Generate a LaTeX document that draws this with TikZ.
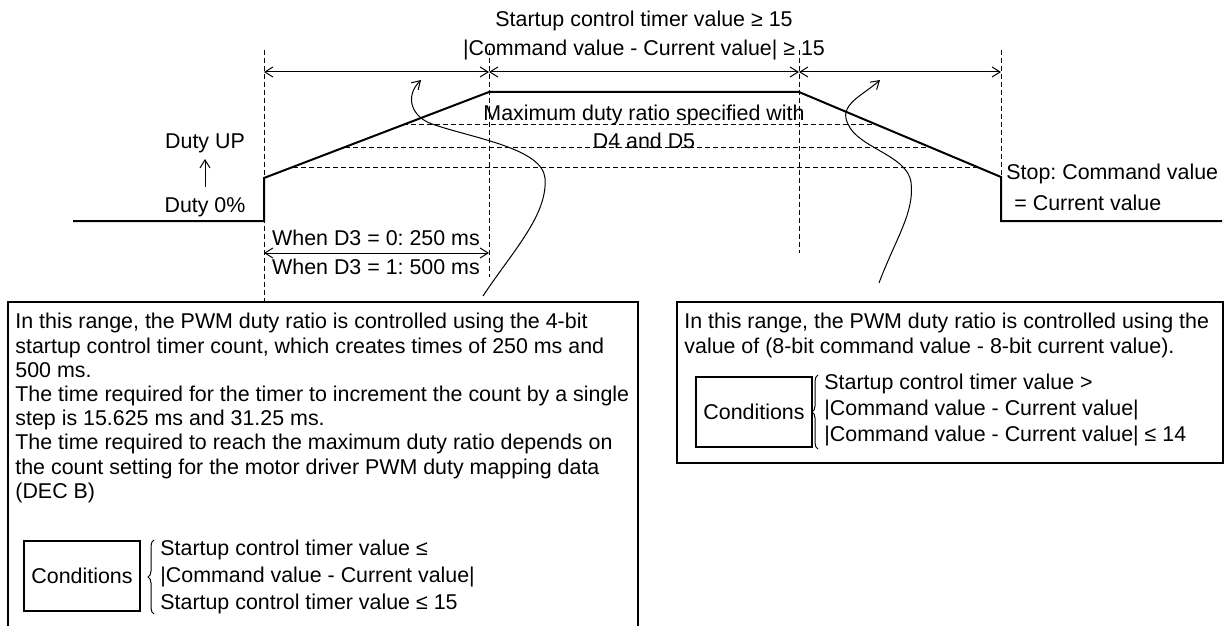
\documentclass[tikz,border=0pt]{standalone}
\usepackage{fontspec}
\setmainfont{Liberation Sans}
\usetikzlibrary{arrows.meta,positioning,decorations.pathreplacing}
\frenchspacing

\begin{document}
\begin{tikzpicture}[x=0.5pt,y=-0.5pt,
    >={Straight Barb[length=4pt,width=5pt]},
    txt/.style={inner sep=0pt,font=\fontsize{10.7}{12.1}\selectfont},
    wave/.style={line width=1pt},
    guide/.style={line width=0.5pt,dash pattern=on 2.5pt off 1.5pt},
    callout/.style={line width=0.5pt},
    frame/.style={line width=0.6pt},
    condbox/.style={draw,line width=0.6pt,minimum width=58pt,minimum height=35pt,inner sep=0pt,font=\fontsize{10.7}{12.1}\selectfont},
    condbrace/.style={line width=0.5pt,decorate,decoration={brace,amplitude=3pt,aspect=0.5}}]
  \useasboundingbox (0,0) rectangle (1225,626);

  \coordinate (w0) at (73,221);
  \coordinate (w1) at (264,221);
  \coordinate (w2) at (264,178);
  \coordinate (w3) at (489,92);
  \coordinate (w4) at (799,92);
  \coordinate (w5) at (1001,177);
  \coordinate (w6) at (1001,221);
  \coordinate (w7) at (1222,221);
  \coordinate (a0) at (264,72);
  \coordinate (a1) at (489,72);
  \coordinate (a2) at (799,72);
  \coordinate (a3) at (1001,72);

  \draw[guide] (264,50) -- (264,302);
  \draw[guide] (489,50) -- (489,277);
  \draw[guide] (799,50) -- (799,253);
  \draw[guide] (1001,50) -- (w5);
  \draw[guide] (403,125) -- (877,125);
  \draw[guide] (345,147) -- (930,147);
  \draw[guide] (293,167) -- (977,167);

  \draw[wave] (w0) -- (w1) -- (w2) -- (w3) -- (w4) -- (w5) -- (w6) -- (w7);

  \draw[callout,<->] (a0) -- (a1);
  \draw[callout,<->] (a1) -- (a2);
  \draw[callout,<->] (a2) -- (a3);

  \node[txt] (limit1) at (644,21) {Startup control timer value ≥ 15};
  \node[txt] (limit2) at (644,50) {|Command value - Current value| ≥ 15};
  \node[txt,align=center,font=\fontsize{10.7}{14}\selectfont] (maxduty) at (644,127) {Maximum duty ratio specified with\\D4 and D5};

  \node[txt] (dutyup) at (205,143) {Duty UP};
  \node[txt] (dutyzero) at (205,207) {Duty 0\%};
  \draw[callout,->,shorten <=5pt,shorten >=3pt] (dutyzero) -- (dutyup);

  \node[txt] (d3zero) at (376,238) {When D3 = 0: 250 ms};
  \node[txt] (d3one) at (376,267) {When D3 = 1: 500 ms};
  \coordinate (t0) at (264,253);
  \coordinate (t1) at (489,253);
  \draw[callout,<->] (t0) -- (t1);

  \node[txt,anchor=west] (stop) at (1006,174) {Stop: Command value};
  \node[txt,anchor=west] (stopeq) at (1014,203) {= Current value};

  \coordinate (lc0) at (483,296);
  \coordinate (lc1) at (421,80);
  \draw[callout,->] (lc0) .. controls (512,252) and (548,215) .. (545,178)
    .. controls (542,148) and (472,138) .. (432,124)
    .. controls (412,117) and (404,97) .. (lc1);
  \coordinate (rc0) at (879,283);
  \coordinate (rc1) at (880,80);
  \draw[callout,->] (rc0) .. controls (895,240) and (915,212) .. (911,182)
    .. controls (907,155) and (858,148) .. (848,124)
    .. controls (838,105) and (862,96) .. (rc1);

  \draw[frame] (8,626) |- (638,302) -- (638,626);
  \node[txt,align=left,anchor=north west] (lefttext) at (15,313) {In this range, the PWM duty ratio is controlled using the 4-bit\\startup control timer count, which creates times of 250 ms and\\500 ms.\\The time required for the timer to increment the count by a single\\step is 15.625 ms and 31.25 ms.\\The time required to reach the maximum duty ratio depends on\\the count setting for the motor driver PWM duty mapping data\\(DEC B)};
  \node[condbox] (lcond) at (82,576) {Conditions};
  \draw[condbrace] (154,614) -- (154,540);
  \node[txt,align=left,anchor=west,font=\fontsize{10.7}{13.5}\selectfont] (lcondtext) at (160,577) {Startup control timer value ≤\\|Command value - Current value|\\Startup control timer value ≤ 15};

  \draw[frame] (677,302) rectangle (1223,463);
  \node[txt,align=left,anchor=north west] (righttext) at (684,313) {In this range, the PWM duty ratio is controlled using the\\value of (8-bit command value - 8-bit current value).};
  \node[condbox] (rcond) at (754,412) {Conditions};
  \draw[condbrace] (818,449) -- (818,375);
  \node[txt,align=left,anchor=west,font=\fontsize{10.7}{13}\selectfont] (rcondtext) at (824,410) {Startup control timer value >\\|Command value - Current value|\\|Command value - Current value| ≤ 14};
\end{tikzpicture}
\end{document}
